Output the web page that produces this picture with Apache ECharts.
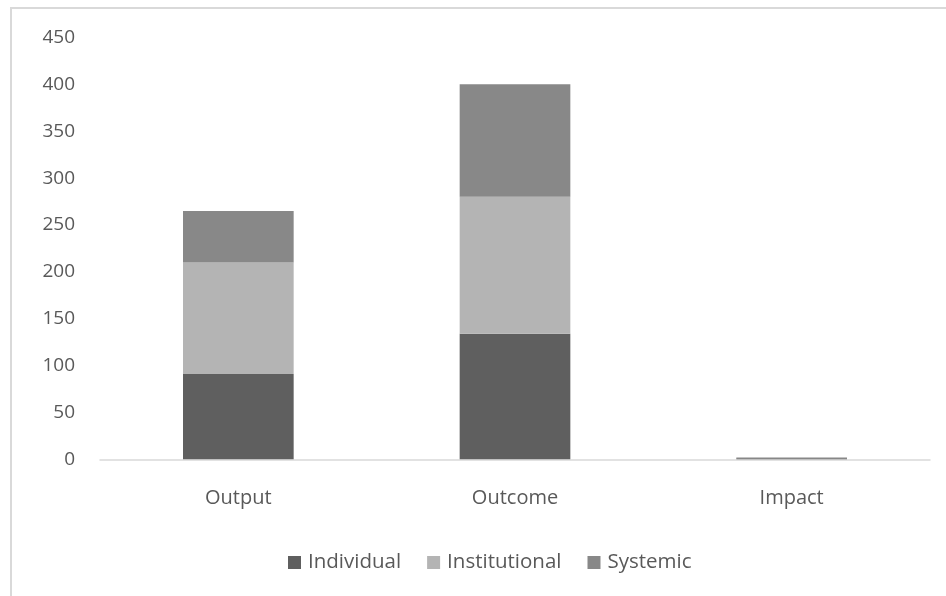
<!DOCTYPE html>
<html>
<head>
<meta charset="utf-8">
<script src="https://cdn.jsdelivr.net/npm/echarts@6/dist/echarts.min.js"></script>
<style>
html,body{margin:0;padding:0;background:#fff;}
#chart{width:946px;height:596px;}
</style>
</head>
<body>
<div id="chart"></div>
<script>
const categories = ['Output', 'Outcome', 'Impact'];
const individual = [91, 134, 1];
const institutional = [119, 146, 0];
const systemic = [55, 120, 1];
const yTicks = [0, 50, 100, 150, 200, 250, 300, 350, 400, 450];

const FONT = '"Open Sans", "Noto Sans", sans-serif';
const chart = echarts.init(document.getElementById('chart'), null, {renderer: 'canvas'});
const mk = (name, data, color) => ({
  name, type: 'bar', stack: 'total', data, barWidth: '40%',
  itemStyle: {color}, emphasis: {disabled: true}
});
chart.setOption({
  animation: false,
  backgroundColor: '#ffffff',
  graphic: [{
    type: 'rect', silent: true,
    shape: {x: 11, y: 8, width: 1000, height: 1000},
    style: {fill: 'none', stroke: '#d9d9d9', lineWidth: 2}
  }],
  grid: {left: 100, right: 16, top: 37.5, bottom: 136.7},
  legend: {
    bottom: 18, left: 283,
    itemWidth: 13, itemHeight: 13, itemGap: 26,
    icon: 'rect',
    textStyle: {fontFamily: FONT, fontSize: 20.5, color: '#595959', padding: [0, 0, 0, 2]},
    data: ['Individual', 'Institutional', 'Systemic']
  },
  xAxis: {
    type: 'category', data: categories,
    axisLine: {lineStyle: {color: '#d9d9d9', width: 1.5}},
    axisTick: {show: false},
    axisLabel: {fontFamily: FONT, fontSize: 20, color: '#595959', margin: 29}
  },
  yAxis: {
    type: 'value', min: 0, max: 450, interval: 50,
    axisLine: {show: false}, axisTick: {show: false},
    splitLine: {show: false},
    axisLabel: {fontFamily: FONT, fontSize: 19, color: '#595959', margin: 25,
      formatter: v => yTicks.includes(v) ? String(v) : ''}
  },
  series: [
    mk('Individual', individual, '#5f5f5f'),
    mk('Institutional', institutional, '#b4b4b4'),
    mk('Systemic', systemic, '#888888')
  ]
});
</script>
</body>
</html>
